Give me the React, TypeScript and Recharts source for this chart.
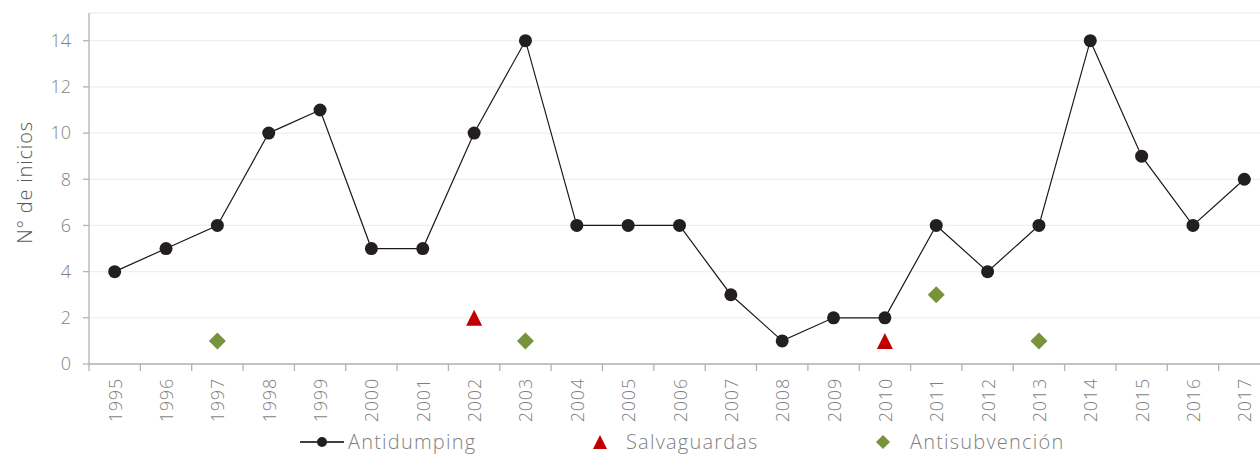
import React from 'react'
import { LineChart, Line, XAxis, YAxis, CartesianGrid } from 'recharts'

const years = [
  '1995', '1996', '1997', '1998', '1999', '2000', '2001', '2002', '2003', '2004', '2005', '2006',
  '2007', '2008', '2009', '2010', '2011', '2012', '2013', '2014', '2015', '2016', '2017',
]
const antidumping = [4, 5, 6, 10, 11, 5, 5, 10, 14, 6, 6, 6, 3, 1, 2, 2, 6, 4, 6, 14, 9, 6, 8]
const salvaguardas = [null, null, null, null, null, null, null, 2, null, null, null, null, null, null, null, 1, null, null, null, null, null, null, null]
const antisubvencion = [null, null, 1, null, null, null, null, null, 1, null, null, null, null, null, null, null, 3, null, 1, null, null, null, null]
const yTicks = [0, 2, 4, 6, 8, 10, 12, 14]

const data = years.map((year, i) => ({
  year,
  antidumping: antidumping[i],
  salvaguardas: salvaguardas[i],
  antisubvencion: antisubvencion[i],
}))

const FONT = '"Open Sans", Lato, sans-serif'
const TEXT_GRAY = '#7f7f7f'
const AXIS_GRAY = '#b3b3b3'
const DOT_DARK = '#231f20'
const RED = '#c00000'
const GREEN = '#77933c'

// plot is 1181px wide (runs past the right edge of the picture), one band per year
const BAND = 1181 / years.length

const YearTick = (props: any) => {
  const { x, y, payload } = props
  return (
    <g>
      <line x1={x - BAND / 2} x2={x - BAND / 2} y1={y} y2={y + 7} stroke={AXIS_GRAY} strokeWidth={1.3} />
      <text
        x={x}
        y={y + 14}
        transform={`rotate(-90, ${x}, ${y + 14})`}
        textAnchor="end"
        dominantBaseline="central"
        fill={TEXT_GRAY}
        fontSize={18}
        letterSpacing={0.8}
        fontFamily={FONT}
        fontWeight={300}
      >
        {payload.value}
      </text>
    </g>
  )
}

const Triangle = (props: any) => {
  const { cx, cy, value, index } = props
  if (value == null || cx == null) return <g key={`t${index}`} />
  return <polygon key={`t${index}`} points={`${cx},${cy - 8} ${cx + 8},${cy + 8} ${cx - 8},${cy + 8}`} fill={RED} />
}

const Diamond = (props: any) => {
  const { cx, cy, value, index } = props
  if (value == null || cx == null) return <g key={`d${index}`} />
  return <polygon key={`d${index}`} points={`${cx},${cy - 8.5} ${cx + 8.5},${cy} ${cx},${cy + 8.5} ${cx - 8.5},${cy}`} fill={GREEN} />
}

const legendText: React.CSSProperties = {
  position: 'absolute',
  top: 0,
  fontFamily: FONT,
  fontWeight: 300,
  fontSize: 20,
  letterSpacing: 1.2,
  color: TEXT_GRAY,
  lineHeight: '26px',
  whiteSpace: 'nowrap',
}

function ChartLegend() {
  return (
    <div style={{ position: 'absolute', left: 0, top: 429, width: 1260, height: 26 }}>
      <svg style={{ position: 'absolute', left: 298, top: 4 }} width={48} height={18}>
        <line x1={2} x2={46} y1={9} y2={9} stroke="#000" strokeWidth={1.3} />
        <circle cx={24} cy={9} r={5} fill={DOT_DARK} />
      </svg>
      <span style={{ ...legendText, left: 348 }}>Antidumping</span>
      <svg style={{ position: 'absolute', left: 591, top: 4 }} width={18} height={18}>
        <polygon points="9,2 16,16 2,16" fill={RED} />
      </svg>
      <span style={{ ...legendText, left: 626 }}>Salvaguardas</span>
      <svg style={{ position: 'absolute', left: 874, top: 4 }} width={18} height={18}>
        <polygon points="9,2 16,9 9,16 2,9" fill={GREEN} />
      </svg>
      <span style={{ ...legendText, left: 910 }}>Antisubvención</span>
    </div>
  )
}

export default function App() {
  return (
    <div style={{ position: 'absolute', left: 0, top: 0, width: 1260, height: 457, overflow: 'hidden', background: '#fff' }}>
      <LineChart width={1290} height={457} data={data} margin={{ top: 13, right: 20, left: 0, bottom: 0 }}>
        <CartesianGrid vertical={false} stroke="#efefef" strokeWidth={1.3} />
        <XAxis
          dataKey="year"
          interval={0}
          height={93}
          padding={{ left: BAND / 2, right: BAND / 2 }}
          tickSize={0}
          tickMargin={0}
          tickLine={false}
          axisLine={{ stroke: AXIS_GRAY, strokeWidth: 1.3 }}
          tick={<YearTick />}
        />
        <YAxis
          width={89}
          domain={[0, 15.2]}
          ticks={yTicks}
          tickSize={6}
          tickMargin={12}
          axisLine={{ stroke: AXIS_GRAY, strokeWidth: 1.3 }}
          tickLine={{ stroke: AXIS_GRAY, strokeWidth: 1.3 }}
          tick={{ fill: TEXT_GRAY, fontSize: 18, fontFamily: FONT, fontWeight: 300 }}
          label={({ viewBox }: any) => (
            <text
              x={24}
              y={viewBox.y + viewBox.height / 2 - 6}
              transform={`rotate(-90, 24, ${viewBox.y + viewBox.height / 2 - 6})`}
              textAnchor="middle"
              dominantBaseline="central"
              fill="#595959"
              fontSize={20}
              letterSpacing={0.8}
              fontFamily={FONT}
              fontWeight={300}
            >
              N° de inicios
            </text>
          )}
        />
        <Line
          dataKey="antidumping"
          stroke="#1a1a1a"
          strokeWidth={1.2}
          dot={{ r: 6.5, fill: DOT_DARK, stroke: 'none' }}
          activeDot={false}
          isAnimationActive={false}
        />
        <Line
          dataKey="salvaguardas"
          stroke="none"
          dot={<Triangle />}
          activeDot={false}
          isAnimationActive={false}
        />
        <Line
          dataKey="antisubvencion"
          stroke="none"
          dot={<Diamond />}
          activeDot={false}
          isAnimationActive={false}
        />
      </LineChart>
      <ChartLegend />
    </div>
  )
}
